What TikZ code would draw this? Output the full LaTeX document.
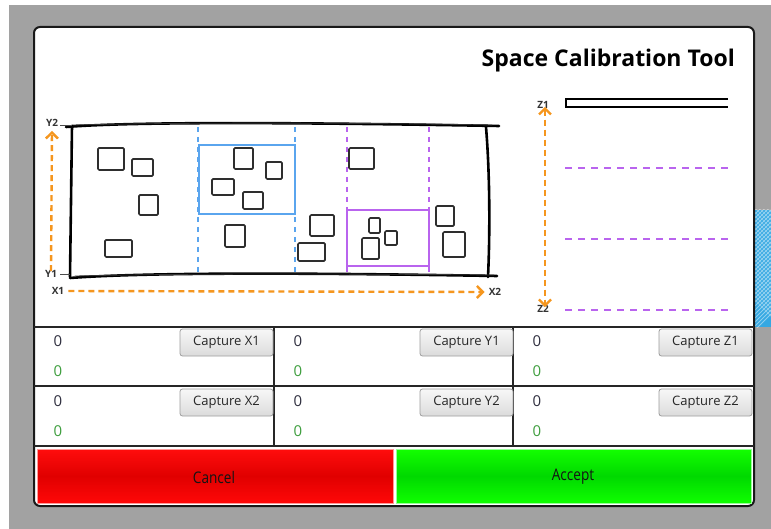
\documentclass[tikz,border=0pt]{standalone}
\usepackage{fontspec}
\setmainfont{Open Sans}
\newfontfamily\titlefont{Open Sans Bold}
\newfontfamily\narrowfont[FakeStretch=0.85]{Open Sans}
\usetikzlibrary{arrows.meta}
\definecolor{bggray}{HTML}{A2A2A2}
\definecolor{axisorange}{HTML}{F5961E}
\definecolor{zoneblue}{HTML}{5AA5EE}
\definecolor{zonepurple}{HTML}{B964EE}
\definecolor{inkdark}{HTML}{2E2E2E}
\definecolor{valdark}{HTML}{2F2F3F}
\definecolor{valgreen}{HTML}{3E9E3E}
\definecolor{hatchblue}{HTML}{35A8E2}
\tikzset{
  sketch/.style={draw=black, line width=2.6pt, line cap=round, line join=round},
  sketchthin/.style={draw=black!80, line width=0.8pt, line cap=round},
  item/.style={draw=inkdark, line width=1.7pt, rounded corners=1.2pt},
  chev/.tip={Straight Barb[length=6pt,width=12pt,line width=2.4pt]},
  axisline/.style={draw=axisorange, line width=2.4pt, dash pattern=on 6pt off 4pt},
  axislabel/.style={font=\bfseries\fontsize{10}{11}\selectfont, text=black!80, inner sep=1pt},
  bluezone/.style={draw=zoneblue, line width=1.3pt, dash pattern=on 5pt off 5pt},
  purplezone/.style={draw=zonepurple, line width=1.3pt, dash pattern=on 5pt off 5pt},
  zlevel/.style={draw=zonepurple, line width=2pt, dash pattern=on 7pt off 6pt},
  gridline/.style={draw=black!85, line width=1.6pt},
  capbtn/.style={draw=black!38, line width=0.8pt, rounded corners=2.5pt,
    top color=white!97!black, bottom color=black!14},
  captext/.style={font=\fontsize{13}{14}\selectfont, text=black!85},
  valtext/.style={font=\fontsize{15}{16}\selectfont, text=valdark, anchor=center},
  greentext/.style={font=\fontsize{15}{16}\selectfont, text=valgreen, anchor=center},
  bigbtntext/.style={font=\narrowfont\fontsize{16}{17}\selectfont, text=black!92}
}
\begin{document}
\begin{tikzpicture}[x=1pt,y=-1pt]
\useasboundingbox (0,0) rectangle (771,529);
% window backdrop
\fill[white] (0,0) rectangle (771,529);
\fill[bggray] (9,5) rectangle (771,529);
% hatched strip at the right edge
\begin{scope}
  \clip (755,210) rectangle (771,327);
  \fill[hatchblue] (755,210) rectangle (771,327);
  \foreach \s in {0,4,...,140}{
    \draw[white, opacity=0.45, line width=0.9pt] (755,190+\s) -- (785,160+\s);
    \draw[white, opacity=0.3, line width=0.9pt] (755,160+\s) -- (785,190+\s);
  }
\end{scope}
% dialog panel
\draw[fill=white, draw=black!90, line width=2pt, rounded corners=6pt] (34,27) rectangle (754,506);

% title
\node[anchor=base east, font=\titlefont\fontsize{23}{25}\selectfont, inner sep=0pt] (title) at (735,67) {Space Calibration Tool};

% ---- work area sketch ----
\draw[sketch] (66,127) .. controls (140,121) and (330,123) .. (499,126);
\draw[sketchthin] (72,125) .. controls (200,122) and (380,123) .. (492,125);
\draw[sketch] (72,126) -- (70,277);
\draw[sketch] (486,127) .. controls (490,175) and (490,235) .. (488,277);
\draw[sketch] (70,278) .. controls (150,272) and (320,273) .. (497,276);
\draw[sketchthin] (75,276) .. controls (200,273) and (380,274) .. (494,275);
\draw[black!70, line width=0.7pt] (60,125) -- (72,125);
\draw[black!70, line width=0.7pt] (60,274) -- (70,274);

% zones
\draw[bluezone] (198,127) -- (198,276);
\draw[bluezone] (295,127) -- (295,276);
\draw[purplezone] (347,127) -- (347,276);
\draw[purplezone] (429,127) -- (429,276);
\draw[draw=zoneblue, line width=1.6pt] (199,145) rectangle (295,214);
\draw[draw=zonepurple, line width=1.6pt] (347,210) rectangle (429,266);

% items
\draw[item] (98,148) rectangle (124,170);
\draw[item] (132,159) rectangle (153,176);
\draw[item] (139,195) rectangle (158,215);
\draw[item] (105,240) rectangle (132,257);
\draw[item] (234,148) rectangle (253,169);
\draw[item] (266,162) rectangle (282,179);
\draw[item] (212,179) rectangle (234,195);
\draw[item] (243,192) rectangle (263,209);
\draw[item] (225,225) rectangle (245,247);
\draw[item] (349,148) rectangle (374,169);
\draw[item] (310,215) rectangle (334,236);
\draw[item] (298,243) rectangle (325,261);
\draw[item] (369,218) rectangle (380,233);
\draw[item] (385,231) rectangle (397,245);
\draw[item] (362,238) rectangle (379,259);
\draw[item] (436,206) rectangle (454,226);
\draw[item] (443,232) rectangle (465,257);

% axes
\node[axislabel] (Y2) at (52,123) {Y2};
\node[axislabel] (Y1) at (51,274) {Y1};
\node[axislabel] (X1) at (58,291) {X1};
\node[axislabel] (X2) at (495,292) {X2};
\draw[axisline, -chev] ([yshift=-2pt]Y1.north) -- ([yshift=-3pt]Y2.south);
\draw[axisline, -chev] ([xshift=3pt]X1.east) -- ([xshift=-3pt]X2.west);

% height scale
\node[axislabel] (Z1) at (543,105) {Z1};
\node[axislabel] (Z2) at (543,309) {Z2};
\draw[axisline, chev-chev]
  ([xshift=2pt,yshift=3pt]Z1.south) -- ([xshift=2pt,yshift=-3pt]Z2.north);
\draw[black, line width=1.6pt] (728,99) -- (566,99) -- (566,107) -- (728,107);
\draw[zlevel] (565,168) -- (728,168);
\draw[zlevel] (565,239) -- (728,239);
\draw[zlevel] (565,310) -- (728,310);

% ---- capture grid ----
\draw[gridline] (34,327) -- (754,327);
\draw[gridline] (34,386) -- (754,386);
\draw[gridline] (34,446) -- (754,446);
\draw[gridline] (274,327) -- (274,446);
\draw[gridline] (513,327) -- (513,446);

\foreach \cx/\ax/\la in {34/X/a, 274/Y/b, 513/Z/c}{
  \foreach \ry/\k in {327/1, 387/2}{
    \node[valtext] (v\la\k) at (\cx+24,\ry+14) {0};
    \node[greentext] (g\la\k) at (\cx+24,\ry+44) {0};
    \draw[capbtn] (\cx+146,\ry+2) rectangle (\cx+239,\ry+29);
    \node[captext] (c\la\k) at (\cx+192.5,\ry+15.5) {Capture \ax\k};
  }
}

% ---- dialog buttons ----
\shade[top color=red!95!white, bottom color=red!97!white, middle color=red!88!black]
  (37,449) rectangle (393,503);
\draw[draw=red!40!white, line width=1pt] (37,449) rectangle (393,503);
\shade[top color=green!90!lime, bottom color=green!92!lime, middle color=green!85!black]
  (396,449) rectangle (751,503);
\draw[draw=green!40!white, line width=1pt] (396,449) rectangle (751,503);
\node[bigbtntext] (cancel) at (214,477) {Cancel};
\node[bigbtntext] (accept) at (573,477) {Accept};
\end{tikzpicture}
\end{document}
